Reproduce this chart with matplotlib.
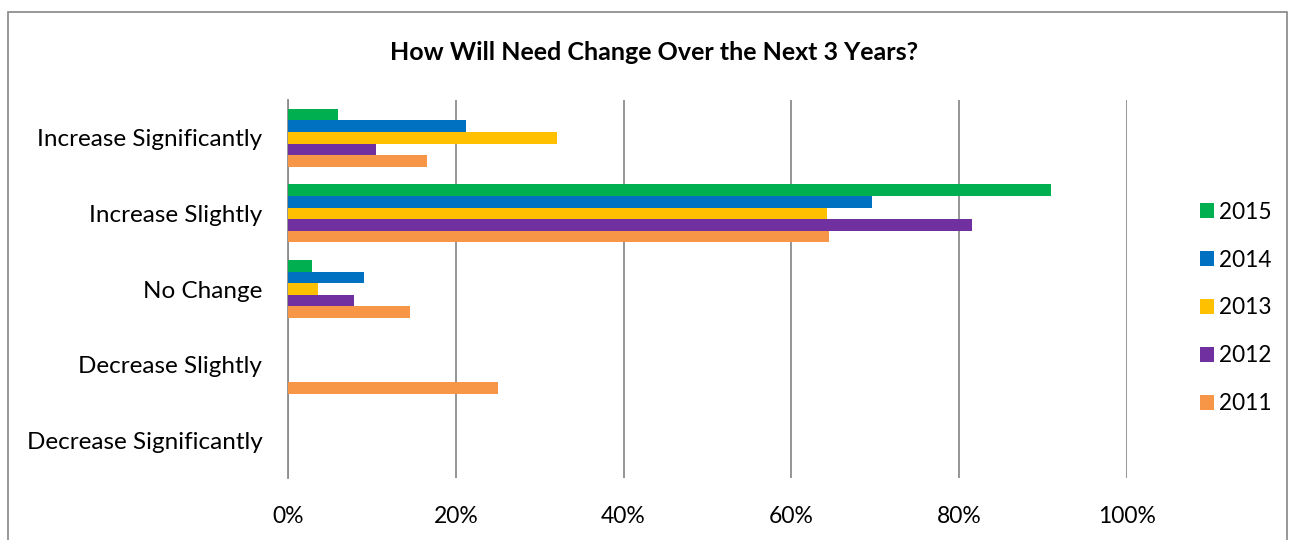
import numpy as np
import matplotlib.pyplot as plt
from matplotlib.patches import Rectangle

# Données
categories = ["Increase Significantly", "Increase Slightly", "No Change",
              "Decrease Slightly", "Decrease Significantly"]
years = ["2015", "2014", "2013", "2012", "2011"]
v2015 = [5.9, 91.0, 2.9, 0, 0]
v2014 = [21.2, 69.6, 9.1, 0, 0]
v2013 = [32.1, 64.2, 3.6, 0, 0]
v2012 = [10.5, 81.5, 7.9, 0, 0]
v2011 = [16.6, 64.5, 14.6, 25.0, 0]
xticks = [0, 20, 40, 60, 80, 100]
xtick_labels = ["0%", "20%", "40%", "60%", "80%", "100%"]

series = [v2015, v2014, v2013, v2012, v2011]
colors = ["#00B050", "#0070C0", "#FFC000", "#7030A0", "#F79646"]

plt.rcParams['font.family'] = ['Lato', 'DejaVu Sans']

fig = plt.figure(figsize=(12.91, 5.40), dpi=100)
ax = fig.add_axes([288 / 1291, 1 - 478 / 540, (1127 - 288) / 1291, (478 - 100) / 540])

# Cadre extérieur du graphique
fig.patches.append(Rectangle((8 / 1291, -0.1), (1287 - 8) / 1291, 1.1 - 12 / 540,
                             transform=fig.transFigure, fill=False,
                             edgecolor="#868686", linewidth=1.2))

y = np.arange(len(categories))
h = 0.153
for i, (vals, col, yr) in enumerate(zip(series, colors, years)):
    ax.barh(y + (i - 2) * h, vals, height=h, color=col, label=yr, zorder=3)

ax.set_xlim(0, 100)
ax.set_ylim(len(categories) - 0.5, -0.5)
ax.set_xticks(xticks)
ax.set_xticklabels(xtick_labels, fontsize=16.5)
ax.set_yticks(y)
ax.set_yticklabels(categories, fontsize=17.5)
ax.tick_params(axis="y", length=0, pad=18.5)
ax.tick_params(axis="x", length=0, pad=20)
ax.grid(axis="x", color="#8c8c8c", linewidth=1.3, zorder=0)
for s in ["top", "right", "bottom"]:
    ax.spines[s].set_visible(False)
ax.spines["left"].set_color("#8c8c8c")
ax.spines["left"].set_linewidth(1.3)

fig.text(654 / 1291, 1 - 52 / 540,
         "How Will Need Change Over the Next 3 Years?",
         ha="center", va="center", fontsize=18, fontweight="bold")

fig.legend(loc="center left", bbox_to_anchor=(1189 / 1291, 1 - 308 / 540),
           frameon=False, fontsize=16.3, handlelength=0.62, handleheight=0.62,
           handletextpad=0.2, labelspacing=1.19, borderpad=0)

fig.savefig("out.png", dpi=100)
